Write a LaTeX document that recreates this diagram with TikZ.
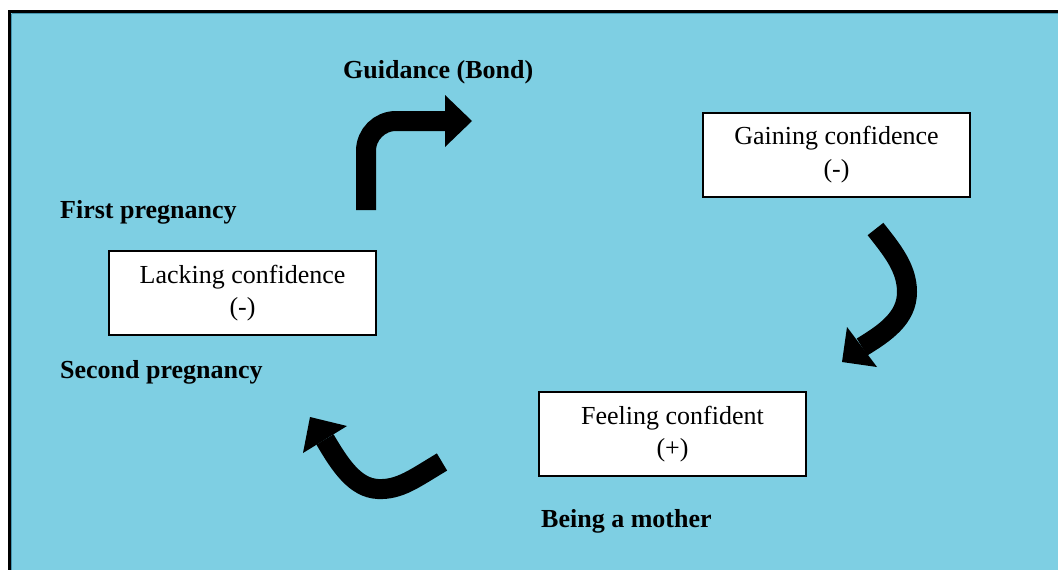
\documentclass[tikz,border=0pt]{standalone}
\usepackage{fontspec}
\setmainfont{Liberation Serif}
\definecolor{panelblue}{RGB}{126,207,227}
\definecolor{edgeblue}{RGB}{70,150,175}
\begin{document}
\begin{tikzpicture}[x=1pt,y=-1pt,
  stagebox/.style={draw=black,line width=2pt,fill=white,minimum width=267pt,
    minimum height=84pt,inner sep=0pt,align=center,
    font=\fontsize{26}{32.5}\selectfont},
  phase/.style={anchor=base west,inner sep=0pt,
    font=\fontsize{26}{30}\selectfont\bfseries},
  flow/.style={line width=20pt,line cap=butt,draw=black},
  flowhead/.style={fill=black,draw=none}]
\useasboundingbox (0,0) rectangle (1058,570);
\clip (0,0) rectangle (1058,570);
\fill[white] (0,0) rectangle (1058,570);
% framed panel, running off the right and bottom edges
\fill[panelblue] (9.5,11.5) rectangle (1080,600);
\draw[edgeblue,line width=1pt] (11.5,13.5) -- (11.5,600);
\draw[edgeblue,line width=1pt] (11.5,13.5) -- (1080,13.5);
\draw[black,line width=3pt] (9.5,600) -- (9.5,11.5) -- (1080,11.5);

% stages
\node[stagebox] (lack) at (242.5,293) {Lacking confidence\\(-)};
\node[stagebox] (gain) at (836.5,154.5) {Gaining confidence\\(-)};
\node[stagebox] (feel) at (672.5,434) {Feeling confident\\(+)};

% phase labels
\node[phase] (guid) at (343,78) {Guidance (Bond)};
\node[phase] (first) at (60,218) {First pregnancy};
\node[phase] (second) at (60,378) {Second pregnancy};
\node[phase] (mother) at (541,527) {Being a mother};

% arrow 1: up and to the right
\coordinate (a1s) at (366,210);
\coordinate (a1e) at (446,121);
\draw[flow] (a1s) -- (366,151) .. controls (366,134.4) and (379.4,121) .. (396,121) -- (a1e);
\fill[flowhead] (472,121) -- (445,95) -- (445,147) -- cycle;

% arrow 2: down the right side
\coordinate (a2s) at (875.5,229);
\coordinate (a2e) at (862,347);
\draw[flow] (a2s) .. controls (892,250) and (907,268) .. (907,292)
  .. controls (907,318) and (885,333) .. (a2e);
\fill[flowhead] (842,362) -- (847,327) -- (877,367) -- cycle;

% arrow 3: back up to the left
\coordinate (a3s) at (442,462);
\coordinate (a3e) at (325,439.5);
\draw[flow] (a3s) .. controls (415,478) and (400,490) .. (378,489)
  .. controls (355,488) and (340,465) .. (a3e);
\fill[flowhead] (310,417) -- (303,453) -- (347,426) -- cycle;
\end{tikzpicture}
\end{document}
